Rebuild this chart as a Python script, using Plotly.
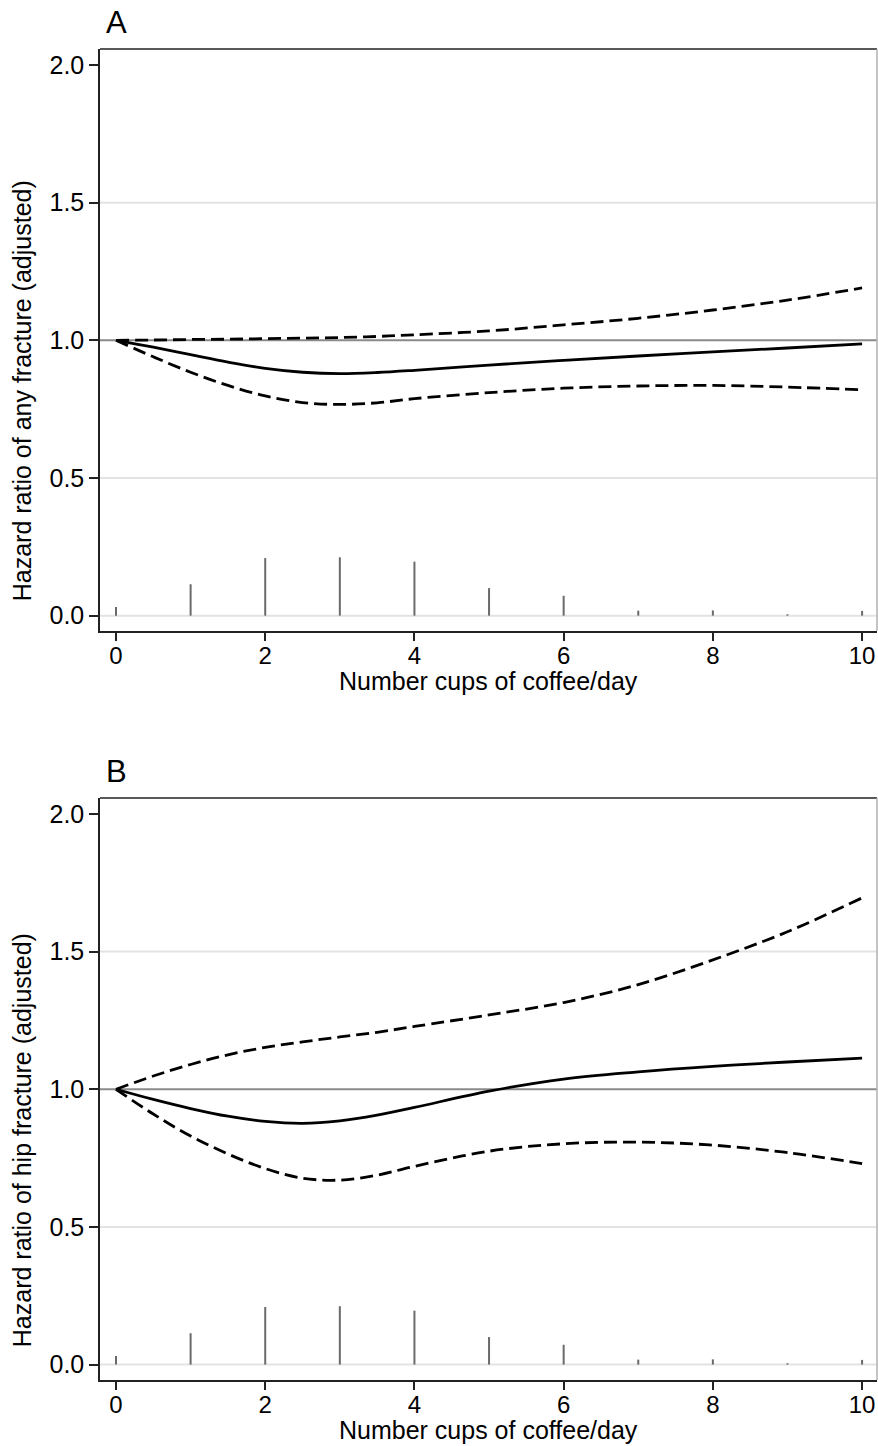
import plotly.graph_objects as go
from plotly.subplots import make_subplots

# ---- data ----
x_grid = [0, 0.5, 1, 1.5, 2, 2.5, 3, 3.5, 4, 5, 6, 7, 8, 9, 10]

a_hr = [1.0, 0.975, 0.948, 0.921, 0.898, 0.884, 0.879, 0.883, 0.891, 0.91, 0.927, 0.943, 0.958, 0.972, 0.987]
a_upper = [1.0, 1.001, 1.003, 1.004, 1.006, 1.008, 1.01, 1.014, 1.02, 1.034, 1.056, 1.08, 1.11, 1.146, 1.19]
a_lower = [1.0, 0.94, 0.884, 0.836, 0.798, 0.774, 0.767, 0.773, 0.788, 0.81, 0.826, 0.834, 0.836, 0.83, 0.82]

b_hr = [1.0, 0.963, 0.93, 0.902, 0.883, 0.876, 0.885, 0.906, 0.934, 0.993, 1.037, 1.063, 1.083, 1.099, 1.113]
b_upper = [1.0, 1.048, 1.09, 1.125, 1.152, 1.172, 1.19, 1.207, 1.228, 1.27, 1.315, 1.38, 1.47, 1.572, 1.695]
b_lower = [1.0, 0.91, 0.83, 0.765, 0.712, 0.677, 0.67, 0.688, 0.72, 0.775, 0.802, 0.808, 0.797, 0.77, 0.73]

cups = [0, 1, 2, 3, 4, 5, 6, 7, 8, 9, 10]
density = [0.031, 0.114, 0.209, 0.212, 0.196, 0.10, 0.072, 0.018, 0.019, 0.005, 0.017]

panel_labels = ["A", "B"]
y_titles = ["Hazard ratio of any fracture (adjusted)", "Hazard ratio of hip fracture (adjusted)"]
x_title = "Number cups of coffee/day"
x_ticks = [0, 2, 4, 6, 8, 10]
y_ticks = [0.0, 0.5, 1.0, 1.5, 2.0]
grid_vals = [0.0, 0.5, 1.5]

FONT = "Liberation Sans, Arial, sans-serif"
FS = 25
TFS = 24
XRANGE = [-0.2145, 10.2]

fig = make_subplots(rows=2, cols=1, vertical_spacing=0.1254)

panels = [(a_hr, a_upper, a_lower), (b_hr, b_upper, b_lower)]

for i, (hr, up, lo) in enumerate(panels, start=1):
    xa = "x" if i == 1 else "x2"
    ya = "y" if i == 1 else "y2"
    tick_axis = "x3" if i == 1 else "x4"

    # spikes (distribution) drawn on the overlay axis that carries the long ticks
    sx, sy = [], []
    for c, d in zip(cups, density):
        sx += [c, c, None]
        sy += [0, d, None]
    fig.add_trace(go.Scatter(x=sx, y=sy, mode="lines", xaxis=tick_axis, yaxis=ya,
                             line=dict(color="#6a6a6a", width=2),
                             showlegend=False, hoverinfo="skip"))
    fig.add_trace(go.Scatter(x=x_grid, y=up, mode="lines", line_shape="spline",
                             line=dict(color="black", width=2.8, dash="13px,6px"),
                             showlegend=False), row=i, col=1)
    fig.add_trace(go.Scatter(x=x_grid, y=lo, mode="lines", line_shape="spline",
                             line=dict(color="black", width=2.8, dash="13px,6px"),
                             showlegend=False), row=i, col=1)
    fig.add_trace(go.Scatter(x=x_grid, y=hr, mode="lines", line_shape="spline",
                             line=dict(color="black", width=2.8),
                             showlegend=False), row=i, col=1)

    for g in grid_vals:
        fig.add_shape(type="line", xref=xa + " domain", yref=ya, x0=0, x1=1, y0=g, y1=g,
                      line=dict(color="#e3e3e3", width=2), layer="below")
    fig.add_shape(type="line", xref=xa + " domain", yref=ya, x0=0, x1=1, y0=1, y1=1,
                  line=dict(color="#8a8a8a", width=2), layer="below")
    fig.add_shape(type="line", xref=xa + " domain", yref=ya + " domain", x0=0, x1=1, y0=1, y1=1,
                  line=dict(color="#222222", width=1.5))
    fig.add_shape(type="line", xref=xa + " domain", yref=ya + " domain", x0=1, x1=1, y0=0, y1=1,
                  line=dict(color="#b0b0b0", width=1.5))

    fig.update_xaxes(range=XRANGE, tickvals=x_ticks, ticktext=[str(t) for t in x_ticks],
                     showline=True, linecolor="#222222", linewidth=1.5,
                     ticks="outside", ticklen=2, tickwidth=1.5, tickcolor="#222222",
                     showgrid=False, zeroline=False,
                     tickfont=dict(family=FONT, size=TFS, color="black"),
                     row=i, col=1)
    fig.update_yaxes(range=[-0.056, 2.058], tickvals=y_ticks, ticktext=[f"{t:.1f}" for t in y_ticks],
                     showline=True, linecolor="#222222", linewidth=1.5,
                     ticks="outside", ticklen=9, tickwidth=1.5, tickcolor="#222222",
                     showgrid=False, zeroline=False,
                     tickfont=dict(family=FONT, size=FS, color="black"),
                     row=i, col=1)
    fig.add_annotation(text=x_title, xref=xa + " domain", yref=ya + " domain",
                       x=0.5, y=0, yshift=-50, xanchor="center", yanchor="middle",
                       showarrow=False, font=dict(family=FONT, size=FS, color="black"))
    fig.add_annotation(text=y_titles[i - 1], xref="paper", yref=ya + " domain",
                       x=0, y=0.412, xshift=-78, textangle=-90,
                       xanchor="center", yanchor="middle", showarrow=False,
                       font=dict(family=FONT, size=FS, color="black"))
    fig.add_annotation(text=panel_labels[i - 1], xref=xa + " domain", yref=ya + " domain",
                       x=0.005, y=1.0, yshift=7, xanchor="left", yanchor="bottom", showarrow=False,
                       font=dict(family=FONT, size=31, color="black"))

tick_overlay = dict(range=XRANGE, tickvals=x_ticks, showticklabels=False, side="bottom",
                    ticks="outside", ticklen=9, tickwidth=1.5, tickcolor="#222222",
                    showline=False, showgrid=False, zeroline=False)
fig.update_layout(xaxis3=dict(overlaying="x", anchor="y", **tick_overlay),
                  xaxis4=dict(overlaying="x2", anchor="y2", **tick_overlay))

fig.update_layout(width=878, height=1446, margin=dict(l=100, r=1, t=49, b=66),
                  plot_bgcolor="white", paper_bgcolor="white")

fig.write_html("out.html")
